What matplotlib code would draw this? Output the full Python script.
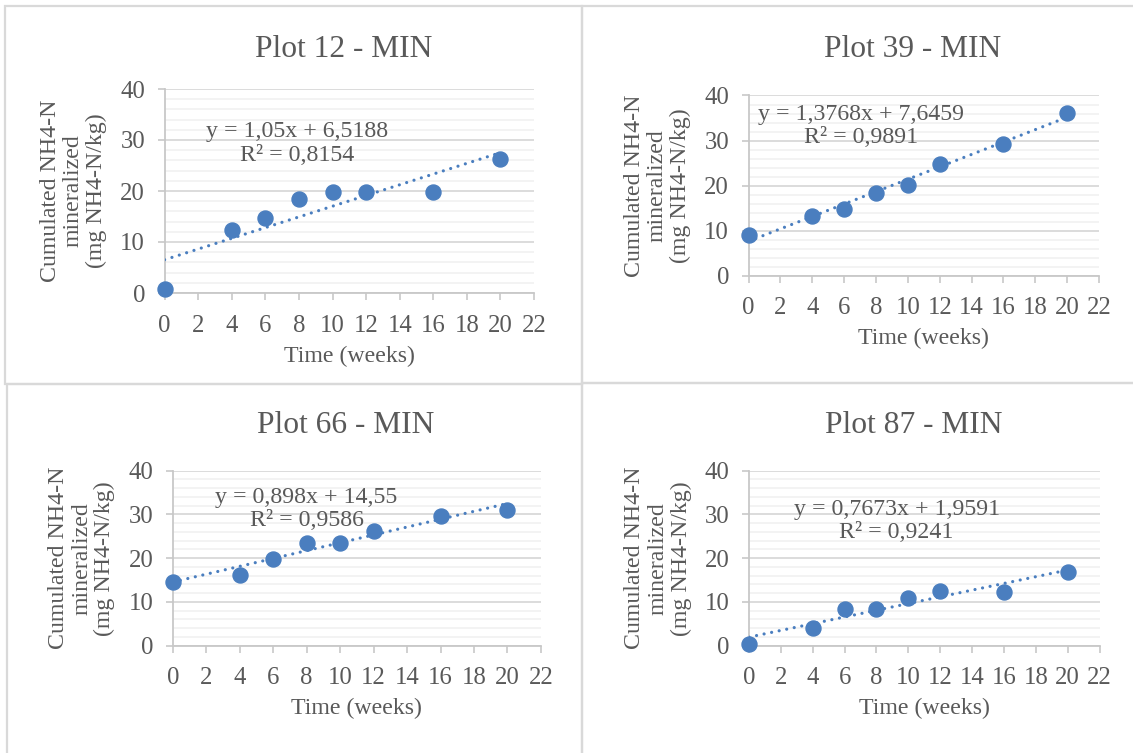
import matplotlib
matplotlib.use("Agg")
import matplotlib.pyplot as plt
from matplotlib.patches import Rectangle
from matplotlib.ticker import MultipleLocator
import numpy as np

# ---------------- data ----------------
weeks = [0, 4, 6, 8, 10, 12, 16, 20]

titles = ["Plot 12 - MIN", "Plot 39 - MIN", "Plot 66 - MIN", "Plot 87 - MIN"]

plot12 = [0.7, 12.3, 14.7, 18.5, 19.8, 19.8, 19.9, 26.2]
plot39 = [9.0, 13.2, 14.9, 18.4, 20.2, 24.9, 29.2, 36.2]
plot66 = [14.6, 16.1, 19.8, 23.5, 23.5, 26.3, 29.7, 31.0]
plot87 = [0.3, 4.0, 8.5, 8.5, 10.9, 12.4, 12.3, 16.8]
series = [plot12, plot39, plot66, plot87]

slopes = [1.05, 1.3768, 0.898, 0.7673]
intercepts = [6.5188, 7.6459, 14.55, 1.9591]
eq_labels = ["y = 1,05x + 6,5188\nR² = 0,8154",
             "y = 1,3768x + 7,6459\nR² = 0,9891",
             "y = 0,898x + 14,55\nR² = 0,9586",
             "y = 0,7673x + 1,9591\nR² = 0,9241"]

x_ticks = [0, 2, 4, 6, 8, 10, 12, 14, 16, 18, 20, 22]
y_ticks = [0, 10, 20, 30, 40]
x_label = "Time (weeks)"
y_label = "Cumulated NH4-N\nmineralized\n(mg NH4-N/kg)"

# ---------------- layout (pixels) ----------------
W, H = 1133, 753
# (x of 0, x of 22, y of 40, y of 0)
axes_px = [(164.6, 534.0, 89.0, 293.0),
           (748.6, 1099.0, 95.5, 275.7),
           (172.8, 540.9, 470.7, 645.7),
           (749.0, 1099.6, 470.7, 645.7)]
title_px = [(343.7, 57.0), (913.0, 57.0), (345.4, 433.0), (914.0, 433.0)]
eq_pos = [(7.9, 29.3), (7.05, 33.2), (7.99, 31.3), (9.26, 28.5)]
boxes_px = [(5, 6, 582, 384), (582, 6, 1140, 383),
            (7, 384, 582, 760), (582, 383, 1140, 760)]

BLUE = "#4a7ebf"
TXT = "#595959"
FONT = "Liberation Serif"
FS_TICK = 17.8
FS_TEXT = 17.2
plt.rcParams["font.family"] = [FONT, "DejaVu Serif"]

fig = plt.figure(figsize=(W / 100, H / 100), dpi=100)
fig.patch.set_facecolor("white")

for (bx0, by0, bx1, by1) in boxes_px:
    fig.add_artist(Rectangle((bx0 / W, 1 - by1 / H), (bx1 - bx0) / W, (by1 - by0) / H,
                             transform=fig.transFigure, fill=False,
                             edgecolor="#d9d9d9", lw=1.6))

for i in range(4):
    x0, x22, y40, y0 = axes_px[i]
    ax = fig.add_axes([x0 / W, 1 - y0 / H, (x22 - x0) / W, (y0 - y40) / H])
    ax.set_xlim(0, 22)
    ax.set_ylim(0, 40)
    ax.set_xticks(x_ticks)
    ax.set_yticks(y_ticks)
    ax.yaxis.set_minor_locator(MultipleLocator(2))
    ax.grid(axis="y", which="major", color="#d9d9d9", lw=1.3)
    ax.grid(axis="y", which="minor", color="#f0f0f0", lw=1.1)
    ax.set_axisbelow(True)
    for s in ["top", "right"]:
        ax.spines[s].set_visible(False)
    for s in ["left", "bottom"]:
        ax.spines[s].set_color("#c8c8c8")
        ax.spines[s].set_linewidth(1.3)
    ax.tick_params(axis="x", which="major", length=5, width=1.2, color="#c8c8c8",
                   labelsize=FS_TICK, labelcolor=TXT, pad=10.5)
    ax.tick_params(axis="y", which="major", length=5, width=1.2, color="#c8c8c8",
                   labelsize=FS_TICK, labelcolor=TXT, pad=9)
    ax.tick_params(axis="y", which="minor", length=0)
    for lab in ax.get_xticklabels() + ax.get_yticklabels():
        lab.set_fontfamily(FONT)

    # trendline
    xs = np.array([weeks[0], weeks[-1]], dtype=float)
    ax.plot(xs, slopes[i] * xs + intercepts[i], color=BLUE, lw=2.3,
            linestyle=(0, (0.01, 2.4)), dash_capstyle="round", zorder=3)
    # points
    ax.plot(weeks, series[i], "o", color=BLUE, markersize=10.8,
            markeredgecolor=BLUE, clip_on=False, zorder=4)
    # equation
    ex, ey = eq_pos[i]
    ax.text(ex, ey, eq_labels[i], ha="center", va="center", multialignment="center",
            fontsize=FS_TEXT, color=TXT, family=FONT, linespacing=1.15, zorder=5)

    # title
    tx, ty = title_px[i]
    fig.text(tx / W, 1 - ty / H, titles[i], ha="center", va="baseline",
             fontsize=22.7, color=TXT, family=FONT)
    # y label
    fig.text((x0 - 91) / W, 1 - ((y40 + y0) / 2) / H, y_label, rotation=90,
             ha="center", va="center", multialignment="center", fontsize=FS_TEXT,
             color=TXT, family=FONT, linespacing=1.13)
    # x label
    fig.text(((x0 + x22) / 2) / W, 1 - (y0 + 63) / H, x_label, ha="center",
             va="center", fontsize=FS_TEXT, color=TXT, family=FONT)

fig.savefig("out.png", dpi=100)
